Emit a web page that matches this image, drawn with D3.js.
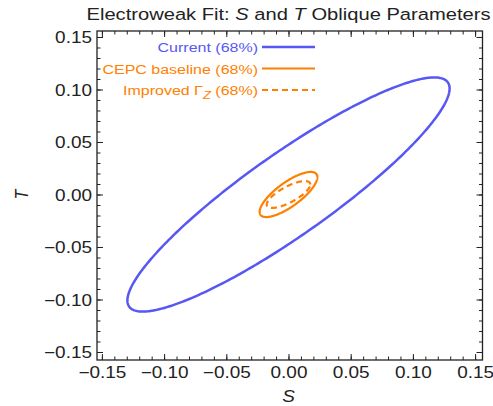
<!DOCTYPE html>
<html>
<head>
<meta charset="utf-8">
<script src="https://cdn.jsdelivr.net/npm/d3@7"></script>
<style>
  html, body { margin: 0; padding: 0; background: #fff; }
  svg { display: block; }
  text { font-family: "Liberation Sans", Arial, sans-serif; }
</style>
</head>
<body>
<svg id="chart" width="493" height="406"></svg>
<script>
// Confidence contours (68%) in the S–T plane: centre, half extent along each axis, correlation
const contourNames = ["Current (68%)", "CEPC baseline (68%)", "Improved \u0393Z (68%)"];
const centerS = [0.0, 0.0, 0.0];
const centerT = [0.0, 0.0, 0.0];
const extentS = [0.1295, 0.0232, 0.0175];
const extentT = [0.1115, 0.0215, 0.0128];
const correlation = [0.905, 0.77, 0.75];
const contourColors = ["#5757f3", "#ff8000", "#ff8000"];
const contourDash = [null, null, "6,4"];

// Axis ticks
const majorTicks = [-0.15, -0.10, -0.05, 0.00, 0.05, 0.10, 0.15];
const minorTicks = d3.range(-15, 16).map(i => i / 100);

const W = 493, H = 406;
const frame = { left: 97, right: 482.5, top: 31, bottom: 360 };
const sx = 1.185; // horizontal text stretch

const svg = d3.select("#chart");

const x = d3.scaleLinear().domain([-0.15394, 0.15595]).range([frame.left, frame.right]);
const y = d3.scaleLinear().domain([-0.15762, 0.15571]).range([frame.bottom, frame.top]);

const fmt = d3.format(".2f");

// Contours
const thetas = d3.range(0, 361).map(d => d * Math.PI / 180);
const line = d3.line().x(d => x(d[0])).y(d => y(d[1])).curve(d3.curveLinearClosed);

contourNames.forEach((name, i) => {
  const r = correlation[i];
  const pts = thetas.map(t => [
    centerS[i] + extentS[i] * Math.cos(t),
    centerT[i] + extentT[i] * (r * Math.cos(t) + Math.sqrt(1 - r * r) * Math.sin(t))
  ]);
  svg.append("path")
    .attr("d", line(pts))
    .attr("fill", "none")
    .attr("stroke", contourColors[i])
    .attr("stroke-width", i === 0 ? 2.5 : 2.2)
    .attr("stroke-dasharray", contourDash[i]);
});

// Axes: ticks point inward on all four sides
function styleAxis(g) {
  g.select(".domain").remove();
  g.selectAll(".tick line").attr("stroke", "#222").attr("stroke-width", 1);
  g.selectAll("text").attr("fill", "#222").style("font-size", "16px")
    .style("font-family", "'Liberation Sans', Arial, sans-serif");
}

function addAxis(axisFn, scale, transform, showLabels) {
  svg.append("g").attr("transform", transform)
    .call(axisFn(scale).tickValues(minorTicks).tickSize(-3.5).tickFormat(""))
    .call(styleAxis);
  const g = svg.append("g").attr("transform", transform)
    .call(axisFn(scale).tickValues(majorTicks).tickSize(-6).tickPadding(showLabels ? 6 : 0)
      .tickFormat(showLabels ? fmt : ""))
    .call(styleAxis);
  return g;
}

const gx = addAxis(d3.axisBottom, x, `translate(0,${frame.bottom})`, true);
gx.selectAll(".tick text").attr("y", null).attr("dy", null)
  .attr("transform", `translate(0,18) scale(${sx},1)`);

const gy = addAxis(d3.axisLeft, y, `translate(${frame.left},0)`, true);
gy.selectAll(".tick text").attr("x", null).attr("dy", "0.35em")
  .attr("transform", `translate(-5,0) scale(${sx},1)`);

addAxis(d3.axisTop, x, `translate(0,${frame.top})`, false);
addAxis(d3.axisRight, y, `translate(${frame.right},0)`, false);

// Frame
svg.append("rect")
  .attr("x", frame.left).attr("y", frame.top)
  .attr("width", frame.right - frame.left).attr("height", frame.bottom - frame.top)
  .attr("fill", "none").attr("stroke", "#222").attr("stroke-width", 1.3);

// Title
const title = svg.append("text")
  .attr("transform", `translate(${x(0)},20) scale(${sx},1)`)
  .attr("text-anchor", "middle").attr("fill", "#222").style("font-size", "17px");
title.append("tspan").text("Electroweak Fit: ");
title.append("tspan").attr("font-style", "italic").text("S");
title.append("tspan").text(" and ");
title.append("tspan").attr("font-style", "italic").text("T");
title.append("tspan").text(" Oblique Parameters");

// Axis titles
svg.append("text")
  .attr("transform", `translate(${x(0)},402) scale(${sx},1)`)
  .attr("text-anchor", "middle").attr("fill", "#222")
  .attr("font-style", "italic").style("font-size", "16px").text("S");

svg.append("text")
  .attr("transform", `translate(28,${y(0)}) rotate(-90) scale(1,${sx})`)
  .attr("text-anchor", "middle").attr("fill", "#222")
  .attr("font-style", "italic").style("font-size", "16px").text("T");

// Legend
const legendY = [47, 68.5, 90];
const legendTextX = 258, legendLineX0 = 262, legendLineX1 = 315;

contourNames.forEach((name, i) => {
  svg.append("line")
    .attr("x1", legendLineX0).attr("x2", legendLineX1)
    .attr("y1", legendY[i]).attr("y2", legendY[i])
    .attr("stroke", contourColors[i]).attr("stroke-width", i === 0 ? 2.5 : 2.2)
    .attr("stroke-dasharray", contourDash[i]);
  const t = svg.append("text")
    .attr("transform", `translate(${legendTextX},${legendY[i] + 5}) scale(${sx},1)`)
    .attr("text-anchor", "end").attr("fill", contourColors[i]).style("font-size", "13.5px");
  if (name.includes("\u0393Z")) {
    const [pre, post] = name.split("\u0393Z");
    t.append("tspan").text(pre + "\u0393");
    t.append("tspan").attr("dy", 4).attr("font-style", "italic").style("font-size", "11px").text("Z");
    t.append("tspan").attr("dy", -4).text(post);
  } else {
    t.text(name);
  }
});
</script>
</body>
</html>
